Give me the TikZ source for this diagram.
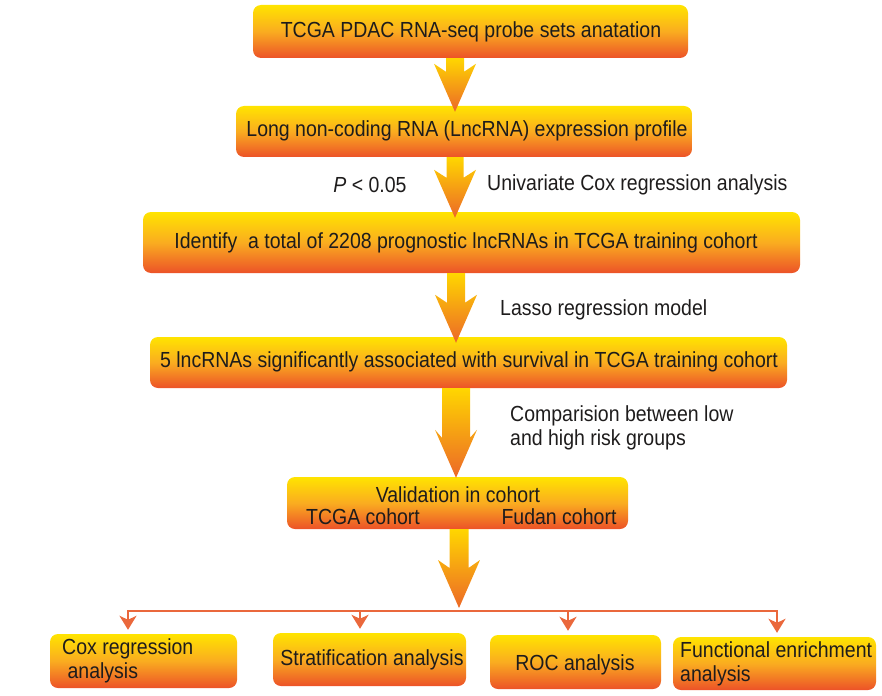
\documentclass[tikz,border=0pt]{standalone}
\usepackage{fontspec}
\setmainfont{Liberation Sans}
\usetikzlibrary{calc,arrows.meta}

\definecolor{boxtop}{RGB}{255,228,0}
\definecolor{boxmid}{RGB}{250,172,32}
\definecolor{boxbot}{RGB}{236,82,40}
\definecolor{arrtop}{RGB}{255,214,0}
\definecolor{arrbot}{RGB}{236,104,40}
\definecolor{branchcol}{RGB}{234,104,60}
\definecolor{ink}{RGB}{30,28,28}

% slightly tall lettering
\newcommand\vstr[1]{\scalebox{1}[1.12]{#1}}
% broad block arrow from #1 down to #2, shaft width #3
\newcommand\bigarrow[3]{%
  \shade[top color=arrtop, bottom color=arrbot]
    ($(#1)+(-#3/2,0)$) -- ($(#2)+(-#3/2,-40)$) -- ($(#2)+(-21,-48)$) --
    (#2) -- ($(#2)+(21,-48)$) -- ($(#2)+(#3/2,-40)$) -- ($(#1)+(#3/2,0)$) -- cycle;}

\tikzset{
  txt/.style={text=ink, font=\fontsize{19.5}{21}\selectfont, inner sep=0pt},
  flowbox/.style={rounded corners=8pt, top color=boxtop, bottom color=boxbot,
    middle color=boxmid, inner sep=0pt, text=ink,
    font=\fontsize{19.5}{21}\selectfont},
  branch/.style={draw=branchcol, line width=2.2pt,
    -{Stealth[length=14pt,width=17pt,inset=4pt]}, shorten >=4pt},
}

\begin{document}
\begin{tikzpicture}[x=1pt,y=-1pt]
\useasboundingbox (0,0) rectangle (882,695);

% main chain of steps
\node[flowbox, minimum width=435, minimum height=53] (b1) at (470.5,31.5) {};
\node[txt] at (471,32) {\vstr{TCGA PDAC RNA-seq probe sets anatation}};

\node[flowbox, minimum width=456, minimum height=51] (b2) at (464,131.5) {};
\node[txt] at (467,131) {\vstr{Long non-coding RNA (LncRNA) expression profile}};

\node[flowbox, minimum width=657, minimum height=61] (b3) at (471.5,242.5) {};
\node[txt] at (466,243) {\vstr{Identify\ \ a total of 2208 prognostic lncRNAs in TCGA training cohort}};

\node[flowbox, minimum width=637, minimum height=51] (b4) at (468.5,362.5) {};
\node[txt] at (469,362) {\vstr{5 lncRNAs significantly associated with survival in TCGA training cohort}};

\node[flowbox, minimum width=341, minimum height=52] (b5) at (457.5,503) {};
\node[txt] at (458,495) {\vstr{Validation in cohort}};
\node[txt] at (363,517) {\vstr{TCGA cohort}};
\node[txt] at (559,517) {\vstr{Fudan cohort}};

% analyses
\node[flowbox, minimum width=187, minimum height=54] (c1) at (143.5,661) {};
\node[txt, anchor=north west] at (62,638) {\vstr{\begin{tabular}{@{}l@{}}Cox regression\\\ analysis\end{tabular}}};

\node[flowbox, minimum width=193, minimum height=53] (c2) at (369.5,659.5) {};
\node[txt] at (372,660) {\vstr{Stratification analysis}};

\node[flowbox, minimum width=171, minimum height=54] (c3) at (575.5,662) {};
\node[txt] at (575,665) {\vstr{ROC analysis}};

\node[flowbox, minimum width=203, minimum height=53] (c4) at (774.5,663.5) {};
\node[txt, anchor=north west] at (680,641) {\vstr{\begin{tabular}{@{}l@{}}Functional enrichment\\analysis\end{tabular}}};

% side notes
\node[txt] at (370,185) {\vstr{\textit{P} < 0.05}};
\node[txt, anchor=west] at (487,185) {\vstr{Univariate Cox regression analysis}};
\node[txt, anchor=west] at (500,310) {\vstr{Lasso regression model}};
\node[txt, anchor=north west] at (510,405) {\vstr{\begin{tabular}{@{}l@{}}Comparision between low\\and high risk groups\end{tabular}}};

% block arrows between steps
\coordinate (x1) at (455,0);
\coordinate (x3) at (456,0);
\coordinate (x5) at (459,0);
\coordinate (hub) at (459,611);
\bigarrow{b1.south -| x1}{$(b2.north -| x1)+(0,6)$}{18}
\bigarrow{b2.south -| x1}{$(b3.north -| x1)+(0,6)$}{17}
\bigarrow{b3.south -| x3}{$(b4.north -| x3)+(0,6)$}{18}
\bigarrow{b4.south -| x3}{$(b5.north -| x3)+(0,1)$}{28}
\bigarrow{b5.south -| x5}{$(hub)+(0,-3)$}{19}

% fan-out to the analyses
\coordinate (k1) at (128,0);
\coordinate (k2) at (360,0);
\coordinate (k3) at (568,0);
\coordinate (k4) at (777,0);
\draw[branch] (hub) -| (c1.north -| k1);
\draw[branch] (hub) -| (c2.north -| k2);
\draw[branch] (hub) -| (c3.north -| k3);
\draw[branch] (hub) -| (c4.north -| k4);
\end{tikzpicture}
\end{document}
